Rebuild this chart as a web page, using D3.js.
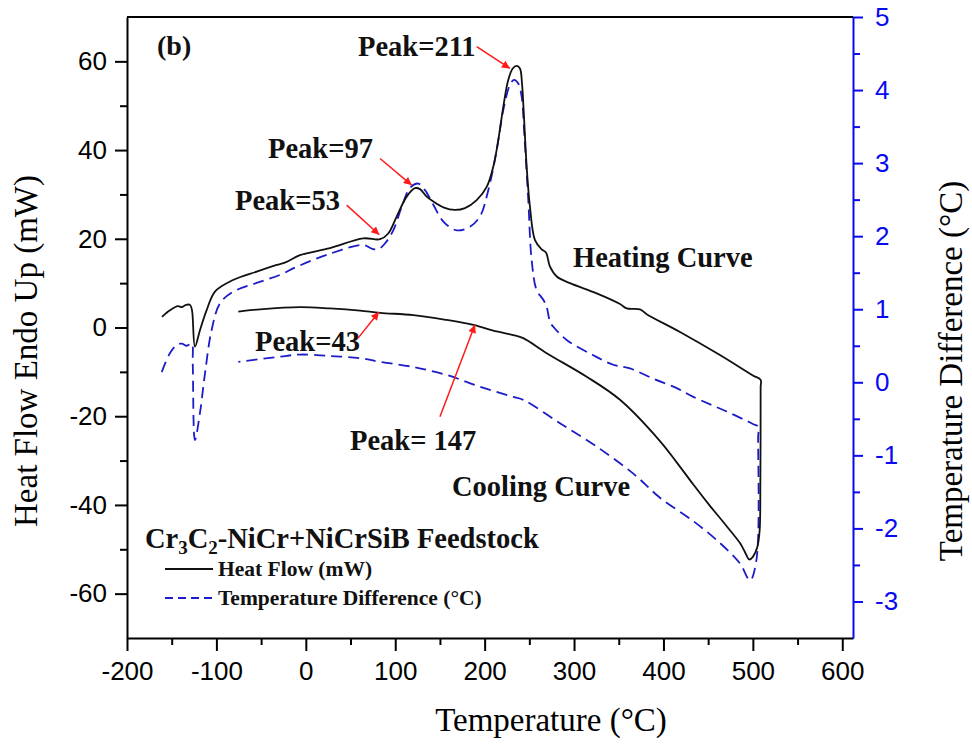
<!DOCTYPE html>
<html>
<head>
<meta charset="utf-8">
<script src="https://cdn.jsdelivr.net/npm/d3@7"></script>
<style>
  body { margin: 0; background: #fff; }
  svg { display: block; }
</style>
</head>
<body>
<div class="chart"></div>
<script>
// datos: [temperatura (°C), valor]
// flujo de calor (mW), eje izquierdo
const heatFlowHeating = [
  [-160.9, 2.4], [-151.9, 3.9], [-143, 4.8], [-138.8, 4.6], [-134, 5.1], [-129.5, 5.1],
  [-127.3, 3.9], [-124, -4.3], [-118.4, -0.6], [-110.9, 3.9], [-101.6, 8.1], [-81.4, 10.7],
  [-54.9, 12.6], [-32.6, 14.1], [-21.4, 14.8], [-6.5, 16.3], [27, 17.9], [64.3, 20.1],
  [83, 19.9], [92.2, 21.2], [101.6, 25], [112.8, 29.5], [122.1, 31.4], [127.7, 31.2],
  [135.2, 29.5], [142.6, 28.4], [153.8, 27.1], [166.8, 26.5], [178, 26.9], [191.1, 28.7],
  [202.3, 31.7], [209.7, 36.3], [215.3, 42.3], [220.9, 49.8], [226.4, 55.8], [231.4, 58.4],
  [235.8, 59], [239.5, 58.4], [241.8, 55], [244, 47.5], [247, 36.3], [250.7, 27.2],
  [256.3, 19.7], [263.8, 17.6], [268.6, 16.9], [273.1, 13.7], [280.6, 11.5], [295.5, 10],
  [325.3, 7.7], [351.4, 5.3], [358.9, 4.3], [373.7, 4.1], [381.2, 3.0], [418.5, -1.0],
  [463.2, -6.2], [500, -10.8], [508.7, -11.8]
];

const heatFlowCooling = [
  [508.7, -11.8], [508.7, -13.5], [508.4, -35], [507.6, -45.7], [505, -49.5], [500, -51.7],
  [496, -52.3], [491.1, -50.6], [485.6, -48.6], [470.7, -44.8], [452, -40.2], [433.4, -35.4],
  [414.8, -30.4], [396.1, -25.6], [351.4, -16.3], [314.1, -11.1], [269.4, -5.8], [243.2, -2.4],
  [232.1, -1.7], [213.5, -0.9], [187.3, 0.6], [157.6, 1.7], [120.2, 2.8], [83, 3.3],
  [60.6, 3.8], [27, 4.3], [-6.5, 4.6], [-51.3, 4.1], [-75.5, 3.6]
];

// diferencia de temperatura (°C), eje derecho
const tempDiffHeating = [
  [-161.2, 0.14], [-151.9, 0.4], [-144.4, 0.51], [-138.8, 0.53], [-133.2, 0.5], [-127.6, 0.53],
  [-126.5, 0.26], [-124, -0.79], [-118.4, -0.42], [-112.8, 0.12], [-105.3, 0.72], [-96, 1.08],
  [-81.1, 1.24], [-55, 1.36], [-28.9, 1.47], [-10.2, 1.58], [27, 1.76], [64.3, 1.88],
  [73.6, 1.83], [81, 1.82], [88.5, 1.9], [97.8, 2.08], [107.2, 2.4], [116.5, 2.66],
  [125.8, 2.72], [133.3, 2.63], [142.6, 2.43], [153.8, 2.2], [168.7, 2.08], [183.6, 2.13],
  [194.8, 2.27], [204.1, 2.63], [213.5, 3.18], [220.9, 3.73], [228.3, 4.07], [232.8, 4.14],
  [237.6, 4.09], [241.4, 3.91], [244.3, 3.41], [248.8, 2.5], [252.6, 1.67], [258.2, 1.26],
  [265.6, 1.13], [269.4, 1.03], [273.1, 0.83], [276.8, 0.76], [291.7, 0.58], [321.5, 0.37],
  [343.9, 0.24], [362.6, 0.19], [388.6, 0.05], [414.8, -0.08], [433.4, -0.2], [470.7, -0.4],
  [500, -0.57], [506, -0.61]
];

const tempDiffCooling = [
  [506, -0.61], [505.9, -0.75], [504, -2.43], [496.8, -2.71], [485.6, -2.48], [463.2, -2.2],
  [433.4, -1.9], [396.1, -1.58], [366.3, -1.25], [325.3, -0.88], [284.2, -0.56], [243.2, -0.24],
  [232.1, -0.2], [194.8, -0.06], [157.6, 0.1], [120.2, 0.21], [83, 0.28], [60.6, 0.33],
  [27, 0.36], [-6.5, 0.38], [-28.9, 0.35], [-75.5, 0.28]
];

// marcas de los ejes
const xTicks = [-200, -100, 0, 100, 200, 300, 400, 500, 600];
const xMinor = [-150, -50, 50, 150, 250, 350, 450, 550];
const yLeftTicks = [-60, -40, -20, 0, 20, 40, 60];
const yLeftMinor = [-50, -30, -10, 10, 30, 50];
const yRightTicks = [-3, -2, -1, 0, 1, 2, 3, 4, 5];
const yRightMinor = [-2.5, -1.5, -0.5, 0.5, 1.5, 2.5, 3.5, 4.5];

// textos
const peakLabels = ['Peak=211', 'Peak=97', 'Peak=53', 'Peak=43', 'Peak= 147'];
const curveLabels = ['Heating Curve', 'Cooling Curve'];
const legendLabels = ['Heat Flow (mW)', 'Temperature Difference (°C)'];

// colores y fuentes
const blue = '#1c1cc8';
const axisBlue = '#0a0af0';
const red = '#ff1a1a';
const serif = "'Liberation Serif', 'Times New Roman', serif";
const sans = "'Liberation Sans', Arial, sans-serif";

// tamaño
const margin = { top: 17, right: 119, bottom: 107, left: 127 };
const width = 972 - margin.left - margin.right;
const height = 745 - margin.top - margin.bottom;

// escalas
const x = d3.scaleLinear().domain([-200, 612]).range([0, width]);
const yLeft = d3.scaleLinear().domain([-70, 70]).range([height, 0]);
const yRight = d3.scaleLinear().domain([-3.5, 5]).range([height, 0]);

// guion normal en los negativos, como en la figura
const plain = d => `${d}`;

const root = d3.select('.chart')
  .append('svg')
  .attr('width', 972)
  .attr('height', 745);

root.append('defs').append('marker')
  .attr('id', 'flecha')
  .attr('viewBox', '0 0 10 10')
  .attr('refX', 10)
  .attr('refY', 5)
  .attr('markerWidth', 12)
  .attr('markerHeight', 8)
  .attr('markerUnits', 'userSpaceOnUse')
  .attr('orient', 'auto')
  .append('path')
  .attr('d', 'M0,0L10,5L0,10z')
  .attr('fill', red);

const svg = root.append('g')
  .attr('transform', `translate(${margin.left}, ${margin.top})`);

// ejes
const styleAxis = (g, color, size) => {
  g.select('.domain').attr('stroke', color).attr('stroke-width', 2);
  g.selectAll('.tick line').attr('stroke', color).attr('stroke-width', 2);
  g.selectAll('.tick text')
    .attr('fill', color)
    .style('font-family', sans)
    .style('font-size', `${size}px`);
};

const addMinor = (axis, transform, color) => {
  const g = svg.append('g').attr('transform', transform).call(axis);
  g.select('.domain').remove();
  g.selectAll('.tick line').attr('stroke', color).attr('stroke-width', 2);
};

addMinor(d3.axisBottom(x).tickValues(xMinor).tickSize(7).tickFormat(''), `translate(0, ${height})`, '#000');
addMinor(d3.axisLeft(yLeft).tickValues(yLeftMinor).tickSize(7).tickFormat(''), 'translate(0, 0)', '#000');
addMinor(d3.axisRight(yRight).tickValues(yRightMinor).tickSize(7).tickFormat(''), `translate(${width}, 0)`, axisBlue);

svg.append('g')
  .attr('transform', `translate(0, ${height})`)
  .call(d3.axisBottom(x).tickValues(xTicks).tickFormat(plain).tickSize(13).tickPadding(11).tickSizeOuter(0))
  .call(g => styleAxis(g, '#000', 26));

svg.append('g')
  .call(d3.axisLeft(yLeft).tickValues(yLeftTicks).tickFormat(plain).tickSize(12).tickPadding(8).tickSizeOuter(0))
  .call(g => styleAxis(g, '#000', 26));

svg.append('g')
  .attr('transform', `translate(${width}, 0)`)
  .call(d3.axisRight(yRight).tickValues(yRightTicks).tickFormat(plain).tickSize(10).tickPadding(12).tickSizeOuter(0))
  .call(g => styleAxis(g, axisBlue, 26));

// línea superior del marco
svg.append('line')
  .attr('x1', 0)
  .attr('x2', width)
  .attr('y1', 0)
  .attr('y2', 0)
  .attr('stroke', '#000')
  .attr('stroke-width', 2);

// títulos de los ejes
root.append('text')
  .attr('x', 551)
  .attr('y', 731)
  .attr('text-anchor', 'middle')
  .style('font-family', serif)
  .style('font-size', '33px')
  .text('Temperature (°C)');

root.append('text')
  .attr('transform', 'translate(37, 351) rotate(-90)')
  .attr('text-anchor', 'middle')
  .style('font-family', serif)
  .style('font-size', '33px')
  .text('Heat Flow Endo Up (mW)');

root.append('text')
  .attr('transform', 'translate(962, 371) rotate(-90)')
  .attr('text-anchor', 'middle')
  .style('font-family', serif)
  .style('font-size', '33px')
  .text('Temperature Difference (°C)');

// curvas
const line = (yScale) => d3.line()
  .x(d => x(d[0]))
  .y(d => yScale(d[1]))
  .curve(d3.curveCatmullRom.alpha(0.5));

svg.append('path')
  .datum(tempDiffHeating.concat(tempDiffCooling.slice(1)))
  .attr('d', line(yRight))
  .attr('fill', 'none')
  .attr('stroke', blue)
  .attr('stroke-width', 1.8)
  .attr('stroke-dasharray', '11,6');

svg.append('path')
  .datum(heatFlowHeating.concat(heatFlowCooling.slice(1)))
  .attr('d', line(yLeft))
  .attr('fill', 'none')
  .attr('stroke', '#111')
  .attr('stroke-width', 1.8);

// anotaciones (posiciones en unidades del eje izquierdo)
const bold = (sel, size) => sel
  .style('font-family', serif)
  .style('font-weight', 'bold')
  .style('font-size', `${size}px`)
  .attr('fill', '#111');

const peakPlaces = [
  { text: [58.4, 61.2], from: [191.1, 63.3], to: [228.3, 58.4] },
  { text: [-42.3, 38.2], from: [83, 38.1], to: [118.4, 32.1] },
  { text: [-79.2, 26.5], from: [45.7, 27.6], to: [82.2, 20.9] },
  { text: [-56.8, -5.3], from: [58.4, -2.4], to: [81.8, 3.5] },
  { text: [49.4, -27.6], from: [150, -20.1], to: [189.2, 0.6] }
];

peakLabels.forEach((label, i) => {
  const p = peakPlaces[i];
  svg.append('text')
    .attr('x', x(p.text[0]))
    .attr('y', yLeft(p.text[1]))
    .call(bold, 28.5)
    .text(label);

  svg.append('line')
    .attr('x1', x(p.from[0]))
    .attr('y1', yLeft(p.from[1]))
    .attr('x2', x(p.to[0]))
    .attr('y2', yLeft(p.to[1]))
    .attr('stroke', red)
    .attr('stroke-width', 1.5)
    .attr('marker-end', 'url(#flecha)');
});

const curvePlaces = [[298.8, 13.6], [163.5, -38]];
curveLabels.forEach((label, i) => {
  svg.append('text')
    .attr('x', x(curvePlaces[i][0]))
    .attr('y', yLeft(curvePlaces[i][1]))
    .call(bold, 28.5)
    .text(label);
});

svg.append('text')
  .attr('x', x(-166.4))
  .attr('y', yLeft(61.4))
  .call(bold, 28)
  .text('(b)');

// título del material con subíndices
const material = svg.append('text')
  .attr('x', x(-179.9))
  .attr('y', yLeft(-49.7))
  .call(bold, 28.5);
material.append('tspan').text('Cr');
material.append('tspan').attr('dy', 6).style('font-size', '19px').text('3');
material.append('tspan').attr('dy', -6).text('C');
material.append('tspan').attr('dy', 6).style('font-size', '19px').text('2');
material.append('tspan').attr('dy', -6).text('-NiCr+NiCrSiB Feedstock');

// leyenda
const legendRows = [
  { y: 552, stroke: '#111', dash: null },
  { y: 581, stroke: blue, dash: '8,5' }
];

legendLabels.forEach((label, i) => {
  const r = legendRows[i];
  svg.append('line')
    .attr('x1', 38)
    .attr('x2', 86)
    .attr('y1', r.y)
    .attr('y2', r.y)
    .attr('stroke', r.stroke)
    .attr('stroke-width', 1.8)
    .attr('stroke-dasharray', r.dash);

  svg.append('text')
    .attr('x', 91)
    .attr('y', r.y + 7)
    .call(bold, 21.5)
    .text(label);
});
</script>
</body>
</html>
